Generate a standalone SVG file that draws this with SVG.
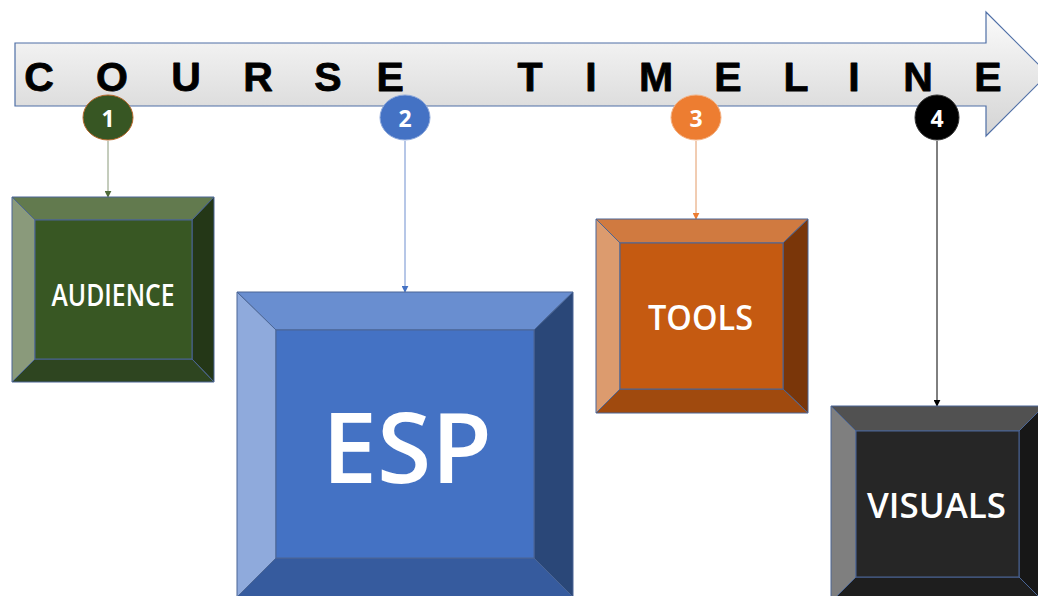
<svg xmlns="http://www.w3.org/2000/svg" width="1038" height="596" viewBox="0 0 1038 596">
  <defs>
    <linearGradient id="arrowFill" x1="0" y1="0" x2="0" y2="1">
      <stop offset="0" stop-color="#fbfbfb"/>
      <stop offset="1" stop-color="#d4d4d4"/>
    </linearGradient>
    <marker id="tipGreen" viewBox="0 0 10 10" refX="9" refY="5" markerWidth="7" markerHeight="7" orient="auto">
      <path d="M0,0 L10,5 L0,10 z" fill="#4f6b3a"/>
    </marker>
    <marker id="tipBlue" viewBox="0 0 10 10" refX="9" refY="5" markerWidth="7" markerHeight="7" orient="auto">
      <path d="M0,0 L10,5 L0,10 z" fill="#4472c4"/>
    </marker>
    <marker id="tipOrange" viewBox="0 0 10 10" refX="9" refY="5" markerWidth="7" markerHeight="7" orient="auto">
      <path d="M0,0 L10,5 L0,10 z" fill="#ed7d31"/>
    </marker>
    <marker id="tipBlack" viewBox="0 0 10 10" refX="9" refY="5" markerWidth="7" markerHeight="7" orient="auto">
      <path d="M0,0 L10,5 L0,10 z" fill="#000"/>
    </marker>
  </defs>
  <style>
    .title { font-family: "Liberation Sans", Arial, sans-serif; font-weight: bold; font-size: 41px; fill: #000; stroke: #000; stroke-width: 0.8; stroke-linejoin: round; text-anchor: middle; }
    .num { font-family: "Open Sans", "Liberation Sans", sans-serif; font-weight: bold; font-size: 23px; fill: #fff; text-anchor: middle; }
    .label { font-family: "Open Sans", "Liberation Sans", sans-serif; font-weight: 600; fill: #fff; text-anchor: middle; }
    .edge { stroke: #4a6595; stroke-width: 1; stroke-linejoin: round; }
    .conn { fill: none; stroke-width: 1; }
  </style>

  <rect width="1038" height="596" fill="#fff"/>

  <!-- timeline arrow -->
  <g id="timeline">
    <path d="M15,43 H986 V12 L1048,74 L986,136 V106 H15 Z" fill="url(#arrowFill)" stroke="#4f6fa6" stroke-width="1.2"/>
    <text class="title" y="91">
      <tspan x="39">C</tspan><tspan x="112">O</tspan><tspan x="186">U</tspan><tspan x="258">R</tspan><tspan x="328">S</tspan><tspan x="396">E</tspan>
      <tspan x="530">T</tspan><tspan x="591">I</tspan><tspan x="656">M</tspan><tspan x="728">E</tspan><tspan x="796">L</tspan><tspan x="854">I</tspan><tspan x="918">N</tspan><tspan x="988">E</tspan>
    </text>
  </g>

  <!-- connectors from markers to boxes -->
  <g id="connectors">
    <line class="conn" x1="108" y1="141" x2="108" y2="197" stroke="#8a9a7b" marker-end="url(#tipGreen)"/>
    <line class="conn" x1="405" y1="141" x2="405" y2="292" stroke="#6f8fcf" marker-end="url(#tipBlue)"/>
    <line class="conn" x1="696" y1="141" x2="696" y2="219" stroke="#e39a66" marker-end="url(#tipOrange)"/>
    <line class="conn" x1="937" y1="141" x2="937" y2="406" stroke="#000" marker-end="url(#tipBlack)"/>
  </g>

  <!-- numbered markers -->
  <g id="marker-1">
    <ellipse cx="108" cy="117.5" rx="25" ry="22.5" fill="#375623" stroke="#b8672a" stroke-width="1"/>
    <text class="num" x="108" y="127">1</text>
  </g>
  <g id="marker-2">
    <ellipse cx="405" cy="117.5" rx="25" ry="22.5" fill="#4472c4" stroke="#8faadc" stroke-width="1"/>
    <text class="num" x="405" y="127">2</text>
  </g>
  <g id="marker-3">
    <ellipse cx="696" cy="117.5" rx="25" ry="22.5" fill="#ed7d31" stroke="#f4b183" stroke-width="1"/>
    <text class="num" x="696" y="127">3</text>
  </g>
  <g id="marker-4">
    <ellipse cx="937" cy="117.5" rx="22" ry="22.5" fill="#000" stroke="#333" stroke-width="1"/>
    <text class="num" x="937" y="127">4</text>
  </g>

  <!-- AUDIENCE bevel box: outer 12..214 x 197..382, inner 35..192 x 220..359 -->
  <g id="audience">
    <polygon class="edge" points="12,197 214,197 192,220 35,220" fill="#627a4e"/>
    <polygon class="edge" points="12,197 35,220 35,359 12,382" fill="#8a9a7b"/>
    <polygon class="edge" points="214,197 214,382 192,359 192,220" fill="#243717"/>
    <polygon class="edge" points="12,382 35,359 192,359 214,382" fill="#2e4520"/>
    <rect class="edge" x="35" y="220" width="157" height="139" fill="#385723"/>
    <text class="label" x="113" y="306" font-size="30" textLength="123" lengthAdjust="spacingAndGlyphs">AUDIENCE</text>
  </g>

  <!-- ESP bevel box: outer 237..573 x 292..596, inner 276..534 x 330..558 -->
  <g id="esp">
    <polygon class="edge" points="237,292 573,292 534,330 276,330" fill="#698ed0"/>
    <polygon class="edge" points="237,292 276,330 276,558 237,597" fill="#8faadc"/>
    <polygon class="edge" points="573,292 573,597 534,558 534,330" fill="#2a4778"/>
    <polygon class="edge" points="237,597 276,558 534,558 573,597" fill="#365b9e"/>
    <rect class="edge" x="276" y="330" width="258" height="228" fill="#4472c4"/>
    <text class="label" x="407" y="483" font-size="98" textLength="170" lengthAdjust="spacingAndGlyphs">ESP</text>
  </g>

  <!-- TOOLS bevel box: outer 596..808 x 219..413, inner 620..783 x 243..389 -->
  <g id="tools">
    <polygon class="edge" points="596,219 808,219 783,243 620,243" fill="#d07a40"/>
    <polygon class="edge" points="596,219 620,243 620,389 596,413" fill="#dc9b6e"/>
    <polygon class="edge" points="808,219 808,413 783,389 783,243" fill="#7a3609"/>
    <polygon class="edge" points="596,413 620,389 783,389 808,413" fill="#a04a0e"/>
    <rect class="edge" x="620" y="243" width="163" height="146" fill="#c55a11"/>
    <text class="label" x="700.5" y="330" font-size="34" textLength="105" lengthAdjust="spacingAndGlyphs">TOOLS</text>
  </g>

  <!-- VISUALS bevel box: outer 831..1044 x 406..602, inner 856..1019 x 431..577 -->
  <g id="visuals">
    <polygon class="edge" points="831,406 1044,406 1019,431 856,431" fill="#515151"/>
    <polygon class="edge" points="831,406 856,431 856,577 831,602" fill="#7f7f7f"/>
    <polygon class="edge" points="1044,406 1044,602 1019,577 1019,431" fill="#171717"/>
    <polygon class="edge" points="831,602 856,577 1019,577 1044,602" fill="#1e1e1e"/>
    <rect class="edge" x="856" y="431" width="163" height="146" fill="#262626"/>
    <text class="label" x="936.5" y="518" font-size="35" textLength="139" lengthAdjust="spacingAndGlyphs">VISUALS</text>
  </g>
</svg>
